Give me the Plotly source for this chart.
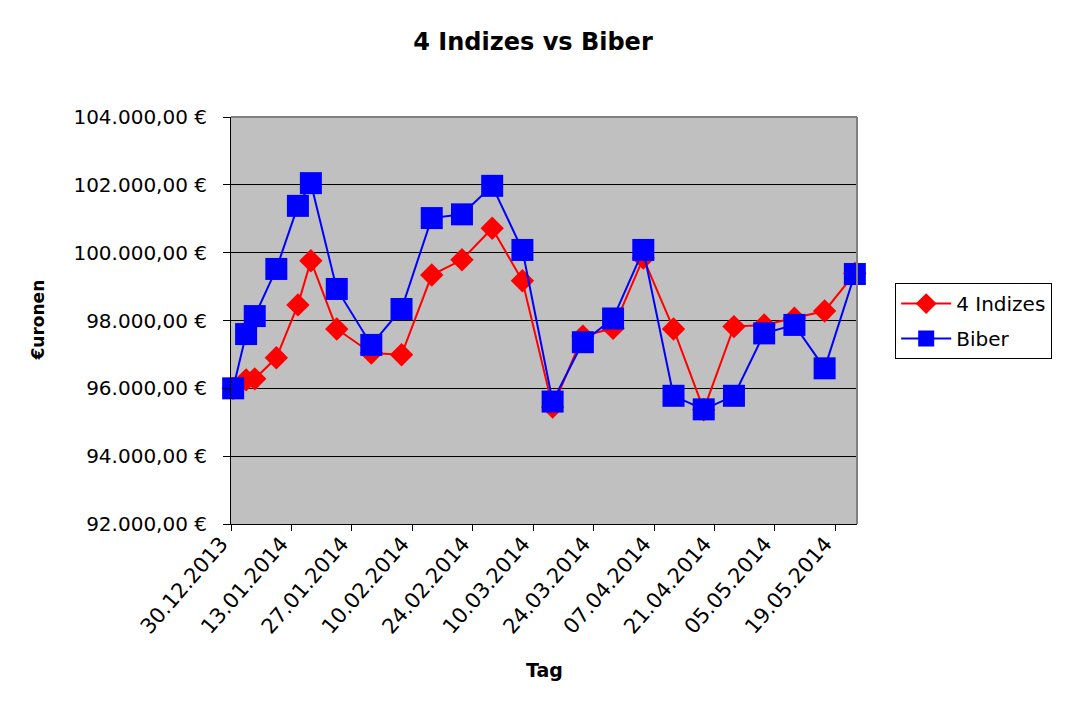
import plotly.graph_objects as go
import pandas as pd

dates = ["2013-12-30", "2014-01-02", "2014-01-04", "2014-01-09", "2014-01-14", "2014-01-17",
         "2014-01-23", "2014-01-31", "2014-02-07", "2014-02-14", "2014-02-21", "2014-02-28",
         "2014-03-07", "2014-03-14", "2014-03-21", "2014-03-28", "2014-04-04", "2014-04-11",
         "2014-04-18", "2014-04-25", "2014-05-02", "2014-05-09", "2014-05-16", "2014-05-23"]

indizes = [96000, 96250, 96280, 96900, 98460, 99760, 97750, 97040, 96990, 99340, 99790, 100720,
           99170, 95450, 97540, 97770, 99840, 97750, 95370, 97820, 97870, 98070, 98280, 99390]

biber = [96000, 97600, 98130, 99520, 101380, 102050, 98930, 97280, 98340, 101020, 101130, 101970,
         100080, 95610, 97360, 98060, 100080, 95780, 95380, 95780, 97620, 97870, 96590, 99370]

tick_labels = ["30.12.2013", "13.01.2014", "27.01.2014", "10.02.2014", "24.02.2014", "10.03.2014",
               "24.03.2014", "07.04.2014", "21.04.2014", "05.05.2014", "19.05.2014"]

FONT = "DejaVu Sans"

half = pd.Timedelta(hours=12)
tick_vals = [(pd.to_datetime(t, format="%d.%m.%Y") - half).strftime("%Y-%m-%d %H:%M") for t in tick_labels]
x_min = (pd.to_datetime(dates[0]) - half).strftime("%Y-%m-%d %H:%M")
x_max = (pd.to_datetime(dates[-1]) + half).strftime("%Y-%m-%d %H:%M")

fig = go.Figure()
fig.add_trace(go.Scatter(
    x=dates, y=indizes, name="4 Indizes", mode="lines+markers",
    line=dict(color="#FF0000", width=2),
    marker=dict(symbol="diamond", size=18, color="#FF0000"),
    cliponaxis=False, legendgroup="a",
))
fig.add_trace(go.Scatter(
    x=dates, y=biber, name="Biber", mode="lines+markers",
    line=dict(color="#0000FF", width=2),
    marker=dict(symbol="square", size=22, color="#0000FF"),
    cliponaxis=False, legendgroup="b",
))

fig.update_layout(
    width=1066, height=705,
    margin=dict(l=231, r=209, t=117, b=181),
    paper_bgcolor="white", plot_bgcolor="#C0C0C0",
    separators=",.",
    font=dict(family=FONT, size=20, color="black"),
    title=dict(text="<b>4 Indizes vs Biber</b>", x=0.5, xref="container", xanchor="center",
               y=1 - 42 / 705, yanchor="middle", font=dict(family=FONT, size=24, color="black")),
    showlegend=True,
    legend=dict(x=1.061, y=0.592, xanchor="left", yanchor="top",
                bgcolor="white", bordercolor="black", borderwidth=1, itemwidth=50,
                font=dict(family=FONT, size=20), tracegroupgap=6),
    xaxis=dict(type="date", range=[x_min, x_max], tickmode="array",
               tickvals=tick_vals, ticktext=tick_labels, tickangle=-49,
               showgrid=False, zeroline=False, showline=True, linecolor="black", linewidth=1,
               ticks="outside", ticklen=6, tickcolor="black",
               ticklabelshift=-10, ticklabelstandoff=-8,
               tickfont=dict(family=FONT, size=21)),
    yaxis=dict(range=[92000, 104000], dtick=2000, tick0=92000, tickformat=",.2f", ticksuffix=" €",
               showgrid=True, gridcolor="black", gridwidth=1, zeroline=False,
               showline=True, linecolor="black", linewidth=1,
               ticks="outside", ticklen=7, tickcolor="black", ticklabelstandoff=12,
               tickfont=dict(family=FONT, size=20)),
    shapes=[
        dict(type="line", xref="paper", yref="paper", x0=0, x1=1, y0=1, y1=1,
             line=dict(color="#808080", width=2)),
        dict(type="line", xref="paper", yref="paper", x0=1, x1=1, y0=0, y1=1,
             line=dict(color="#808080", width=2)),
    ],
    annotations=[
        dict(text="<b>€uronen</b>", xref="paper", yref="paper", x=(37 - 231) / 626, y=0.5,
             xanchor="center", yanchor="middle", textangle=-90, showarrow=False,
             font=dict(family=FONT, size=17)),
        dict(text="<b>Tag</b>", xref="paper", yref="paper", x=0.5, y=(524 - 670) / 407,
             xanchor="center", yanchor="middle", showarrow=False,
             font=dict(family=FONT, size=19)),
    ],
)

fig.write_html("out.html", config={"displayModeBar": False},
               post_script="document.body.style.margin='0';document.body.style.padding='0';")
